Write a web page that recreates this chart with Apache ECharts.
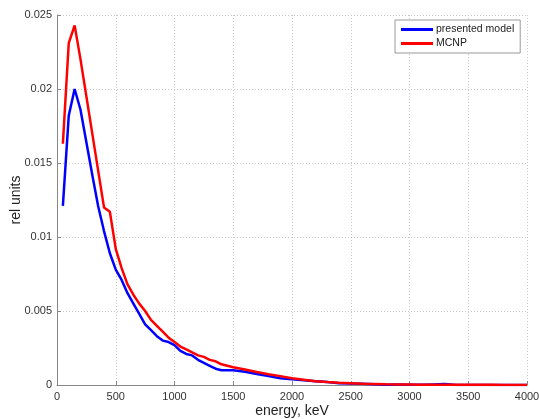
<!DOCTYPE html>
<html>
<head>
<meta charset="utf-8">
<script src="https://cdn.jsdelivr.net/npm/echarts@6/dist/echarts.min.js"></script>
<style>
  html, body { margin: 0; padding: 0; background: #fff; }
  #chart { width: 539px; height: 419px; }
</style>
</head>
<body>
<div id="chart"></div>
<script>
// Energy grid (keV)
const energy = [
  50, 100, 150, 200, 250, 300, 350, 400, 450, 500,
  550, 600, 650, 700, 750, 800, 850, 900, 950, 1000,
  1050, 1100, 1150, 1200, 1250, 1300, 1350, 1400, 1450, 1500,
  1600, 1700, 1800, 1900, 2000, 2100, 2200, 2300, 2400, 2500,
  2600, 2700, 2800, 2900, 3000, 3100, 3200, 3300, 3400, 3500,
  3600, 3700, 3800, 3900, 4000
];

// Spectrum from the presented model (rel units)
const modelValues = [
  0.0121, 0.0182, 0.0200, 0.0186, 0.0164, 0.0142, 0.0121, 0.0104, 0.0089, 0.0078,
  0.0071, 0.0062, 0.0055, 0.0048, 0.0041, 0.0037, 0.0033, 0.0030, 0.0029, 0.0027,
  0.0023, 0.0021, 0.0020, 0.0017, 0.0015, 0.0013, 0.0011, 0.0010, 0.0010, 0.0010,
  0.0009, 0.00074, 0.0006, 0.00045, 0.00038, 0.00032, 0.00026, 0.0002, 0.00012, 0.0001,
  0.00008, 0.00005, 0.00002, 0.00003, 0.00002, 0.00001, 0.00004, 0.00006, 0.0, 0.0,
  0.0, 0.0, 0.0, 0.0, 0.0
];

// Spectrum from MCNP (rel units)
const mcnpValues = [
  0.0163, 0.0231, 0.0243, 0.0220, 0.0195, 0.0170, 0.0145, 0.0120, 0.0117, 0.0092,
  0.0079, 0.0068, 0.0061, 0.0055, 0.0050, 0.0044, 0.0040, 0.0036, 0.0032, 0.0029,
  0.0026, 0.0024, 0.0022, 0.0020, 0.0019, 0.0017, 0.0016, 0.0014, 0.0013, 0.0012,
  0.00105, 0.00088, 0.00073, 0.0006, 0.00045, 0.00036, 0.00026, 0.0002, 0.00015, 0.00012,
  0.00009, 0.00007, 0.00005, 0.00004, 0.00003, 0.00002, 0.00002, 0.00002, 0.00001, 0.00001,
  0.00001, 0.00001, 0.0, 0.0, 0.0
];

const seriesNames = ['presented model', 'MCNP'];
const xTicks = { min: 0, max: 4000, interval: 500 };
const yTicks = { min: 0, max: 0.025, interval: 0.005 };

const pairs = (xs, ys) => xs.map((x, i) => [x, ys[i]]);

const chart = echarts.init(document.getElementById('chart'));
const tickFont = { fontFamily: 'Liberation Sans, Arial, sans-serif', fontSize: 11, color: '#333' };
const gridLine = { show: true, lineStyle: { color: '#c8c8c8', type: [1, 2], width: 1 } };

chart.setOption({
  animation: false,
  backgroundColor: '#fff',
  grid: { left: 57, right: 12, top: 15, bottom: 34, containLabel: false, outerBoundsMode: 'none' },
  legend: {
    orient: 'vertical',
    left: 395,
    top: 20,
    backgroundColor: '#fff',
    borderColor: '#999',
    borderWidth: 1,
    padding: [4, 6, 4, 6],
    itemGap: 3,
    itemWidth: 32,
    itemHeight: 3,
    icon: 'rect',
    textStyle: { fontFamily: 'Liberation Sans, Arial, sans-serif', fontSize: 10.5, color: '#222', padding: [0, 0, 0, -2] },
    data: seriesNames
  },
  xAxis: {
    type: 'value',
    min: xTicks.min, max: xTicks.max, interval: xTicks.interval,
    name: 'energy, keV',
    nameLocation: 'middle',
    nameGap: 19,
    nameMoveOverlap: false,
    nameTextStyle: { fontFamily: 'Liberation Sans, Arial, sans-serif', fontSize: 14, color: '#222' },
    axisLine: { show: true, lineStyle: { color: '#888', width: 1 } },
    axisTick: { show: true, inside: true, length: 4, lineStyle: { color: '#888' } },
    axisLabel: Object.assign({ margin: 6, formatter: v => String(v) }, tickFont),
    splitLine: gridLine
  },
  yAxis: {
    type: 'value',
    min: yTicks.min, max: yTicks.max, interval: yTicks.interval,
    name: 'rel units',
    nameLocation: 'middle',
    nameGap: 34,
    nameRotate: 90,
    nameMoveOverlap: false,
    nameTextStyle: { fontFamily: 'Liberation Sans, Arial, sans-serif', fontSize: 14, color: '#222' },
    axisLine: { show: true, lineStyle: { color: '#888', width: 1 } },
    axisTick: { show: true, inside: true, length: 4, lineStyle: { color: '#888' } },
    axisLabel: Object.assign({ margin: 5, formatter: v => String(v) }, tickFont),
    splitLine: gridLine
  },
  series: [
    {
      name: seriesNames[0],
      type: 'line',
      data: pairs(energy, modelValues),
      showSymbol: false,
      color: '#0000ff',
      lineStyle: { color: '#0000ff', width: 2.5 },
      z: 3
    },
    {
      name: seriesNames[1],
      type: 'line',
      data: pairs(energy, mcnpValues),
      showSymbol: false,
      color: '#ff0000',
      lineStyle: { color: '#ff0000', width: 2.5 },
      z: 4
    }
  ]
});
</script>
</body>
</html>
